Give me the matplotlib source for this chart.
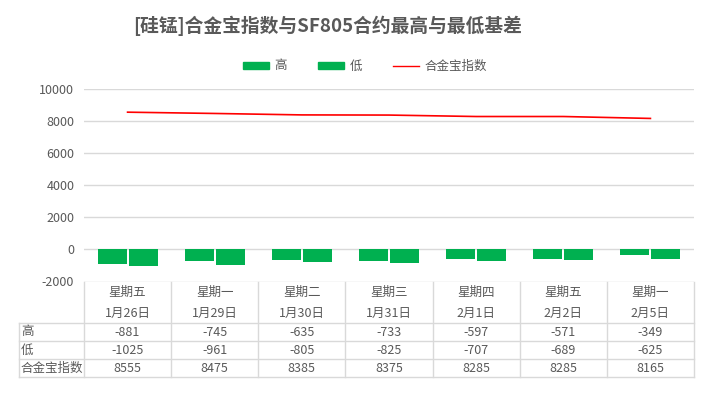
import matplotlib
matplotlib.use("Agg")
import matplotlib.pyplot as plt
from matplotlib.lines import Line2D
from matplotlib.patches import Patch

plt.rcParams['font.family'] = ['Noto Sans CJK SC', 'DejaVu Sans']

weekdays = ["星期五", "星期一", "星期二", "星期三", "星期四", "星期五", "星期一"]
dates = ["1月26日", "1月29日", "1月30日", "1月31日", "2月1日", "2月2日", "2月5日"]
high = [-881, -745, -635, -733, -597, -571, -349]
low = [-1025, -961, -805, -825, -707, -689, -625]
index_vals = [8555, 8475, 8385, 8375, 8285, 8285, 8165]
yticks = [-2000, 0, 2000, 4000, 6000, 8000, 10000]
row_names = ["高", "低", "合金宝指数"]

W, H = 715, 396
fig = plt.figure(figsize=(W / 100, H / 100), dpi=100)

def px(x0, y0, x1, y1):
    return [x0 / W, 1 - y1 / H, (x1 - x0) / W, (y1 - y0) / H]

ax = fig.add_axes(px(84, 89, 694, 281.5))
n = len(high)
xs = list(range(n))
green = "#00B050"
grid_c = "#D9D9D9"
txt_c = "#595959"

bw = 0.333
off = 0.178
ax.bar([x - off for x in xs], high, width=bw, color=green, zorder=2)
ax.bar([x + off for x in xs], low, width=bw, color=green, zorder=2)
ax.plot(xs, index_vals, color="#FF0000", lw=1.2, zorder=3)

ax.set_xlim(-0.5, n - 0.5)
ax.set_ylim(-2000, 10000)
ax.set_yticks(yticks)
ax.set_yticklabels([str(v) for v in yticks], color=txt_c, fontsize=9)
ax.tick_params(axis='y', length=0, pad=7)
ax.set_xticks([])
for s in ax.spines.values():
    s.set_visible(False)
for v in yticks:
    ax.axhline(v, color=grid_c, lw=1, zorder=1)

# Data table
tab_top, hdr_bot = 281.5, 323
row_h = 18
left_lab = 19
x_edges = [84 + i * (694 - 84) / n for i in range(n + 1)]
lc = grid_c
for xe in x_edges:
    fig.add_artist(Line2D([xe / W, xe / W], [1 - tab_top / H, 1 - (hdr_bot + 3 * row_h) / H], color=lc, lw=1))
fig.add_artist(Line2D([left_lab / W, left_lab / W], [1 - hdr_bot / H, 1 - (hdr_bot + 3 * row_h) / H], color=lc, lw=1))
for r in range(4):
    yy = hdr_bot + r * row_h
    fig.add_artist(Line2D([left_lab / W, 694 / W], [1 - yy / H, 1 - yy / H], color=lc, lw=1))

data_rows = [high, low, index_vals]
for i in range(n):
    cx = (x_edges[i] + x_edges[i + 1]) / 2 / W
    fig.text(cx, 1 - 292 / H, weekdays[i], ha='center', va='center', fontsize=9, color=txt_c)
    fig.text(cx, 1 - 313 / H, dates[i], ha='center', va='center', fontsize=9, color=txt_c)
    for r, row in enumerate(data_rows):
        yy = hdr_bot + r * row_h + row_h / 2
        fig.text(cx, 1 - yy / H, str(row[i]), ha='center', va='center', fontsize=9, color=txt_c)
for r, name in enumerate(row_names):
    yy = hdr_bot + r * row_h + row_h / 2
    fig.text(21 / W, 1 - yy / H, name, ha='left', va='center', fontsize=9, color=txt_c)

# Title
fig.text(328 / W, 1 - 26 / H, "[硅锰]合金宝指数与SF805合约最高与最低基差", ha='center', va='center',
         fontsize=13.5, fontweight='bold', color=txt_c)

# Legend
handles = [Patch(color=green, label="高"), Patch(color=green, label="低"),
           Line2D([], [], color="#FF0000", lw=1, label="合金宝指数")]
leg = fig.legend(handles=handles, ncol=3, loc='center', bbox_to_anchor=(365 / W, 1 - 66 / H),
                 frameon=False, fontsize=9, handlelength=2.1, handleheight=0.5,
                 columnspacing=2.5, handletextpad=0.4)
for t in leg.get_texts():
    t.set_color(txt_c)

fig.savefig("out.png", dpi=100, facecolor="white")
